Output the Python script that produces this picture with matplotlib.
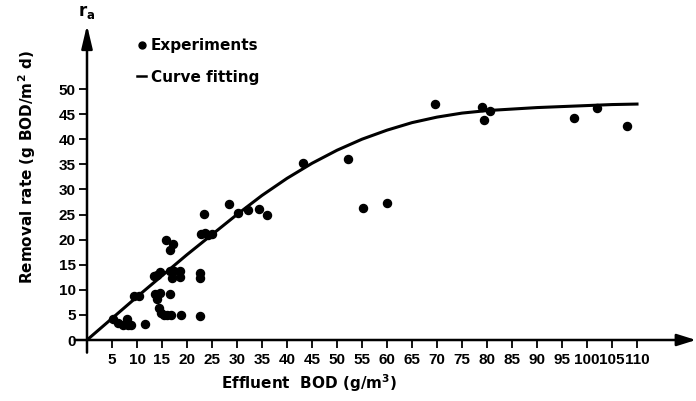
import matplotlib
matplotlib.use('Agg')
import matplotlib.pyplot as plt
from matplotlib.lines import Line2D

effluent_bod = [5.2, 6.2, 7.2, 8.0, 8.2, 8.8, 11.5, 9.4, 10.3,
                13.4, 14.0, 14.6, 13.6, 14.0, 14.6, 14.4, 14.8, 15.4,
                16.0, 16.8, 18.7, 15.8, 17.2, 16.5, 16.6, 16.9, 17.4,
                18.5, 18.5, 16.5, 22.6, 22.6, 22.5, 23.4, 22.8, 23.6,
                24.2, 25.0, 28.3, 30.2, 32.2, 34.3, 36.0, 43.1, 52.2,
                55.2, 60.0, 69.6, 79.0, 80.6, 79.4, 97.4, 102.0, 108.0]
removal_rate = [4.2, 3.4, 3.0, 4.1, 3.0, 3.0, 3.2, 8.8, 8.8,
                12.7, 13.0, 13.5, 9.2, 8.2, 9.4, 6.4, 5.4, 5.0,
                5.0, 5.0, 5.0, 20.0, 19.2, 17.9, 13.7, 12.4, 13.8,
                13.7, 12.5, 9.1, 13.4, 12.4, 4.8, 25.1, 21.1, 21.3,
                20.9, 21.1, 27.0, 25.3, 25.9, 26.1, 24.9, 35.3, 36.0,
                26.3, 27.3, 47.0, 46.4, 45.6, 43.8, 44.2, 46.2, 42.6]

# fitted curve, every 5 g/m3
curve_bod = [0, 5, 10, 15, 20, 25, 30, 35, 40, 45, 50, 55,
             60, 65, 70, 75, 80, 85, 90, 95, 100, 105, 110]
curve_rate = [0, 4.3, 8.6, 12.8, 17.0, 21.0, 25.0, 28.8, 32.2, 35.2, 37.8, 40.0,
              41.8, 43.3, 44.4, 45.2, 45.7, 46.0, 46.3, 46.5, 46.7, 46.9, 47.0]

x_ticks = list(range(5, 115, 5))
y_ticks = list(range(0, 55, 5))

plt.rcParams['font.family'] = 'DejaVu Sans'
plt.rcParams['font.weight'] = 'bold'
plt.rcParams['mathtext.fontset'] = 'custom'
plt.rcParams['mathtext.rm'] = 'DejaVu Sans:bold'
plt.rcParams['mathtext.it'] = 'DejaVu Sans:bold'
plt.rcParams['mathtext.default'] = 'rm'

W, H = 696, 401
fig = plt.figure(figsize=(6.96, 4.01), dpi=100)
# axes box in pixels: origin (87, 340), right edge 696, top 25
ax = fig.add_axes([87 / W, (H - 340) / H, (696 - 87) / W, (340 - 25) / H])
ax.set_xlim(0, 609 / 5.0)
ax.set_ylim(0, 315 / 5.02)
for s in ax.spines.values():
    s.set_visible(False)

ax.plot(curve_bod, curve_rate, color='black', lw=2.2)
ax.plot(effluent_bod, removal_rate, 'o', color='black', ms=5.8, ls='none')

# axis lines with arrow heads
ax.annotate('', xy=(1, 0), xytext=(-0.02, 0), xycoords='axes fraction',
            arrowprops=dict(arrowstyle='-|>,head_length=1.15,head_width=0.36',
                            mutation_scale=10, lw=1.8, color='black',
                            shrinkA=0, shrinkB=0))
ax.annotate('', xy=(0, 1), xytext=(0, -0.04), xycoords='axes fraction',
            arrowprops=dict(arrowstyle='-|>,head_length=1.4,head_width=0.33',
                            mutation_scale=10, lw=1.8, color='black',
                            shrinkA=0, shrinkB=0))

ax.set_xticks(x_ticks)
ax.set_yticks(y_ticks)
ax.tick_params(axis='x', direction='out', length=6, width=1.3, pad=3)
ax.tick_params(axis='y', direction='out', length=6, width=1.3, pad=2)
for lab in ax.get_xticklabels() + ax.get_yticklabels():
    lab.set_fontfamily('Liberation Sans')
    lab.set_fontweight('bold')
    lab.set_fontsize(11)

ax.text(0, 1 + 13 / 315, 'r$_a$', transform=ax.transAxes, ha='center',
        va='center', fontsize=12)
fig.text(27 / W, 1 - 167 / H, 'Removal rate (g BOD/m$^2$ d)', rotation=90,
         ha='center', va='center', fontsize=11)
fig.text(309 / W, 1 - 383 / H, 'Effluent  BOD (g/m$^3$)', ha='center',
         va='center', fontsize=11)

handles = [Line2D([], [], marker='o', color='black', ls='none', ms=5),
           Line2D([], [], color='black', lw=1.8)]
fig.legend(handles, ['Experiments', 'Curve fitting'], loc='upper left',
           bbox_to_anchor=(137 / W, 1 - 38 / H), frameon=False, fontsize=11,
           handlelength=0.6, handletextpad=0.3, labelspacing=1.1,
           borderpad=0, borderaxespad=0)

fig.savefig('out.png', dpi=100)
